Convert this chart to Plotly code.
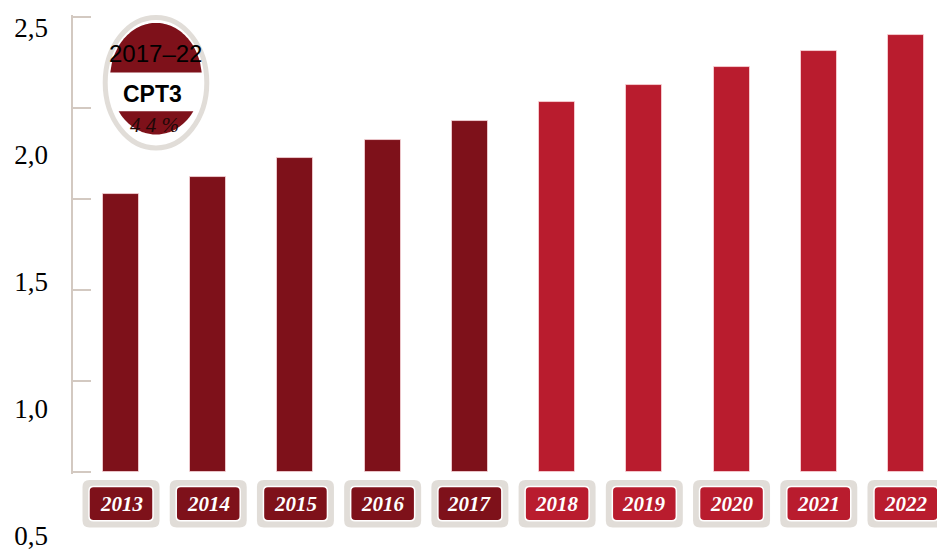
import numpy as np
import plotly.graph_objects as go

# ---------------- data ----------------
years = ["2013", "2014", "2015", "2016", "2017", "2018", "2019", "2020", "2021", "2022"]
values = [1.527, 1.624, 1.724, 1.828, 1.932, 2.036, 2.129, 2.228, 2.315, 2.403]
last_actual_year = 2017
axis_tick_vals = [0.0, 0.5, 1.0, 1.5, 2.0, 2.5]
label_tick_vals = [0.5, 1.0, 1.5, 2.0, 2.5]
label_tick_text = ["0,5", "1,0", "1,5", "2,0", "2,5"]
badge_period = "2017\u201322"
badge_name = "CPT3"
badge_value = "4 4 %"

# ---------------- style ----------------
W, H = 937, 551
ML = 73
PW = W - ML
DARK = "#7e111a"
BRIGHT = "#b91c2e"
GRAY = "#e1ddd8"
AXIS = "#d3c9c1"

x_idx = list(range(len(years)))
colors = [DARK if int(y) <= last_actual_year else BRIGHT for y in years]

x_range = [-0.5503, 9.3557]
unit_px = PW / (x_range[1] - x_range[0])

# y axis: ticks 0..2.5 between pixel 474 and 17.3, padded slightly so end ticks are drawn
y_top_px, y_bot_px = 17.3, 474.0
y_pad = 0.012
y_ppu = (y_bot_px - y_top_px) / 2.5
pad_px = y_pad * y_ppu


def pp(px, py):
    return (px - ML) / PW, 1 - py / H


fig = go.Figure()
fig.add_trace(go.Bar(
    x=x_idx, y=values, width=0.413,
    marker=dict(color=colors, line=dict(color="rgba(255,225,228,0.7)", width=1)),
    xaxis="x", yaxis="y", hoverinfo="skip",
))
fig.add_trace(go.Scatter(x=[None], y=[None], xaxis="x2", yaxis="y2", mode="markers",
                         showlegend=False, hoverinfo="skip"))


def rrect(xc, hw_px, ytop_px, ybot_px, r_px):
    hw = hw_px / unit_px
    rx = r_px / unit_px
    y0 = 1 - ybot_px / H
    y1 = 1 - ytop_px / H
    ry = r_px / H
    x0, x1 = xc - hw, xc + hw
    return (f"M{x0+rx},{y0} L{x1-rx},{y0} Q{x1},{y0} {x1},{y0+ry} L{x1},{y1-ry} "
            f"Q{x1},{y1} {x1-rx},{y1} L{x0+rx},{y1} Q{x0},{y1} {x0},{y1-ry} "
            f"L{x0},{y0+ry} Q{x0},{y0} {x0+rx},{y0} Z")


shapes = []
annotations = []
for i, yr in enumerate(years):
    shapes.append(dict(type="path", xref="x", yref="paper", layer="below",
                       path=rrect(i, 38.5, 481.7, 529.3, 7),
                       fillcolor=GRAY, line=dict(width=0)))
    shapes.append(dict(type="path", xref="x", yref="paper", layer="below",
                       path=rrect(i, 32, 488.3, 522.7, 4.5),
                       fillcolor=colors[i], line=dict(color="white", width=1.5)))
    annotations.append(dict(x=i, xref="x", y=1 - 506 / H, yref="paper",
                            text=f"<b><i>{yr}</i></b>", showarrow=False,
                            xanchor="center", yanchor="middle",
                            font=dict(family="Liberation Serif", size=21, color="white")))

# oval badge
cx, cy = 156, 83
x0, y0 = pp(cx - 50.8, cy - 65.5)
x1, y1 = pp(cx + 50.8, cy + 65.5)
shapes.append(dict(type="circle", xref="paper", yref="paper", x0=x0, x1=x1, y0=y1, y1=y0,
                   fillcolor="white", line=dict(color=GRAY, width=5)))

rcx, rcy, rrx, rry = 156, 79, 46, 56


def cap(y_cut, top=True):
    xh = rrx * np.sqrt(1 - ((y_cut - rcy) / rry) ** 2)
    xs = np.linspace(-xh, xh, 60)
    sgn = -1 if top else 1
    ys = rcy + sgn * rry * np.sqrt(np.clip(1 - (xs / rrx) ** 2, 0, None))
    pts = [pp(rcx - xh, y_cut)] + [pp(rcx + a, b) for a, b in zip(xs, ys)] + [pp(rcx + xh, y_cut)]
    return "M" + " L".join(f"{a:.5f},{b:.5f}" for a, b in pts) + " Z"


shapes.append(dict(type="path", xref="paper", yref="paper", path=cap(72.7, True),
                   fillcolor=DARK, line=dict(width=0)))
shapes.append(dict(type="path", xref="paper", yref="paper", path=cap(111.7, False),
                   fillcolor=DARK, line=dict(width=0)))

ax, ay = pp(155.5, 54)
annotations.append(dict(x=ax, y=ay, xref="paper", yref="paper", text=badge_period,
                        showarrow=False, xanchor="center", yanchor="middle",
                        font=dict(family="Liberation Sans", size=24, color="black")))
ax, ay = pp(152.5, 94.5)
annotations.append(dict(x=ax, y=ay, xref="paper", yref="paper", text=f"<b>{badge_name}</b>",
                        showarrow=False, xanchor="center", yanchor="middle",
                        font=dict(family="Liberation Sans", size=23, color="black")))
ax, ay = pp(154, 125)
annotations.append(dict(x=ax, y=ay, xref="paper", yref="paper", text=f"<i>{badge_value}</i>",
                        showarrow=False, xanchor="center", yanchor="middle",
                        font=dict(family="Liberation Serif", size=21, color="#1e0808")))

fig.update_layout(
    width=W, height=H,
    margin=dict(l=ML, r=0, t=0, b=0),
    paper_bgcolor="white", plot_bgcolor="rgba(0,0,0,0)",
    showlegend=False, bargap=0,
    xaxis=dict(domain=[0, 1], range=x_range, anchor="y", showline=False, showgrid=False,
               zeroline=False, showticklabels=False, ticks=""),
    yaxis=dict(domain=[(H - y_bot_px - pad_px) / H, (H - y_top_px + pad_px) / H],
               range=[-y_pad, 2.5 + y_pad], anchor="x",
               tickvals=axis_tick_vals, ticks="inside", ticklen=18, tickwidth=2,
               tickcolor=AXIS, showline=True, linewidth=2, linecolor=AXIS,
               showticklabels=False, showgrid=False, zeroline=False),
    xaxis2=dict(domain=[0, 1], range=[0, 1], anchor="y2", visible=False),
    yaxis2=dict(domain=[0, 1], range=[2.5 - (H - 27.7) / 254.9, 2.5 + 27.7 / 254.9],
                anchor="x2", tickvals=label_tick_vals, ticktext=label_tick_text,
                ticks="", showline=False, showgrid=False, zeroline=False,
                ticklabelstandoff=24, ticklabeloverflow="allow",
                tickfont=dict(family="Liberation Serif", size=27, color="black")),
    shapes=shapes,
    annotations=annotations,
)

fig.write_html("out.html")
